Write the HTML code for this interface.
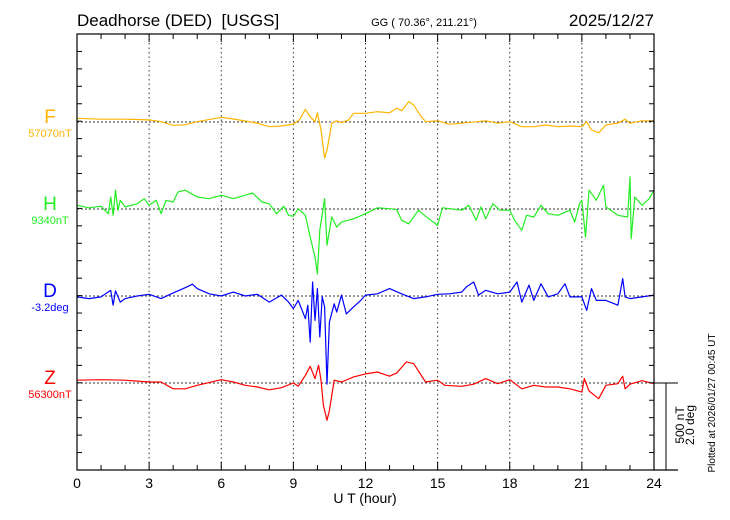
<!DOCTYPE html>
<html><head><meta charset="utf-8"><style>
body{margin:0;background:#fff;}
svg{display:block;font-family:"Liberation Sans",sans-serif;}
text{white-space:pre;}
</style></head><body>
<svg id="chart" width="730" height="520" viewBox="0 0 730 520" xmlns="http://www.w3.org/2000/svg">
<text x="77" y="26" font-size="17" xml:space="preserve">Deadhorse (DED)  [USGS]</text>
<text x="424" y="26" font-size="11" text-anchor="middle">GG ( 70.36°, 211.21°)</text>
<text x="654" y="26" font-size="17" text-anchor="end">2025/12/27</text>
<g id="grid"></g>
<g id="series"></g>
<g id="axes"></g>
<text x="365" y="503" font-size="14" text-anchor="middle">U T (hour)</text>
<text transform="translate(684,425) rotate(-90)" font-size="12" text-anchor="middle">500 nT</text>
<text transform="translate(694,425) rotate(-90)" font-size="12" text-anchor="middle">2.0 deg</text>
<text transform="translate(715,403) rotate(-90)" font-size="10" text-anchor="middle">Plotted at 2026/01/27 00:45 UT</text>
</svg>
<script>
const xTicks = [0,3,6,9,12,15,18,21,24];
const fT = [0,1,2,3,3.5,4,4.5,5,6,6.5,7,7.5,8,8.5,9,9.25,9.5,9.7,9.9,10,10.15,10.3,10.4,10.6,10.8,11,11.3,11.5,12,12.5,13,13.3,13.5,13.8,14,14.3,14.5,15,15.5,16,17,17.5,18,18.5,19,19.5,20,20.5,21,21.2,21.4,21.7,22,22.5,22.8,23,23.5,24];
const fVals = [21,16,16,12,2,-19,-16,2,27,17,6,-7,-27,-23,-12,12,73,30,2,53,-46,-207,-161,-7,7,-4,12,50,50,59,53,79,65,117,98,35,2,7,-13,-7,7,-7,2,-27,-27,-17,-27,-23,-27,2,-46,-62,-17,-7,16,-7,7,7];
const hT = [0,0.5,1,1.3,1.4,1.5,1.6,1.7,1.8,2,2.5,2.8,3,3.3,3.5,3.7,4,4.2,4.5,5,5.5,6,6.5,7,7.3,7.7,8,8.3,8.6,8.8,9,9.2,9.5,9.7,9.9,10,10.1,10.3,10.4,10.6,10.8,11,11.5,12,12.5,13,13.3,13.5,13.8,14.2,14.5,15,15.2,15.5,16,16.3,16.6,16.8,17,17.3,17.6,18,18.2,18.5,18.7,19,19.3,19.6,20,20.5,20.7,20.9,21,21.15,21.3,21.6,21.9,22,22.5,22.9,23,23.05,23.2,23.5,23.8,24];
const hVals = [21,7,16,-27,69,-36,108,-7,50,12,30,59,21,50,-27,50,40,98,108,69,59,79,59,79,92,40,30,-27,16,-36,-42,2,-36,-161,-276,-372,-121,59,-207,-46,-104,-75,-56,-27,7,2,-4,-65,-85,-7,-42,-94,7,2,-7,21,-65,12,-56,30,-7,-7,-65,-122,-36,-46,21,-27,-36,-7,-75,30,50,-161,108,50,136,12,-36,-46,184,-171,69,21,59,108];
const dT = [0,0.5,1,1.4,1.5,1.6,1.8,2,2.5,3,3.5,4,4.5,4.8,5,5.5,6,6.5,7,7.5,8,8.5,8.8,9,9.2,9.5,9.6,9.7,9.8,9.9,10,10.1,10.2,10.3,10.4,10.5,10.7,10.8,11,11.2,11.5,11.8,12,12.5,13,13.5,14,14.5,15,15.5,16,16.2,16.5,16.7,17,17.5,18,18.3,18.5,18.8,19,19.3,19.6,20,20.3,20.5,21,21.2,21.4,21.6,22,22.5,22.7,22.8,23,23.5,24];
const dVals = [-0.02,-0.06,-0.02,0.13,-0.21,0.12,-0.14,-0.06,0,0.04,-0.06,0.07,0.19,0.27,0.17,0.05,0,0.09,0,0.04,-0.14,0.02,-0.14,-0.29,-0.10,-0.52,-0.21,-1.06,0.32,-0.56,0.17,-0.94,-0.02,-0.25,-2.02,-0.60,-0.18,-0.37,0.02,-0.41,-0.25,-0.10,0.02,0.05,0.17,0.05,-0.06,-0.02,0.04,0.05,0.09,0.21,0.32,0.02,0.13,0.05,0.09,0.32,-0.14,0.25,-0.10,0.28,-0.02,0.05,0.28,-0.02,-0.02,-0.33,0.17,-0.10,-0.10,-0.21,0.40,-0.02,-0.06,-0.02,0.02];
const zT = [0,1,2,3,3.5,4,4.5,5,6,6.5,7,7.5,8,8.5,9,9.2,9.5,9.7,9.9,10.05,10.15,10.25,10.4,10.5,10.7,11,11.5,12,12.5,13,13.3,13.7,14,14.5,15,15.3,16,16.5,17,17.5,18,18.5,19,19.5,20,20.5,21,21.1,21.3,21.7,22,22.5,22.7,22.8,23,23.5,24];
const zVals = [16,19,16,6,6,-33,-33,-13,19,6,-13,-23,-39,-27,0,-19,44,96,25,102,16,-128,-214,-157,16,6,35,52,63,39,58,121,111,6,16,-13,-19,-7,25,-4,19,-33,-13,-23,-23,-33,-52,25,-46,-90,-13,-4,39,-33,-7,13,-4];

const X0=77, X1=654, Y0=34, Y1=470;
const xs = h => X0 + (X1-X0)*h/24;
const tick = (Y1-Y0)/25;
const ntScale = 5*tick/500;   // px per nT
const degScale = 5*tick/2.0;  // px per deg
const NS='http://www.w3.org/2000/svg';
function mk(tag, attrs, parent){const e=document.createElementNS(NS,tag);for(const k in attrs)e.setAttribute(k,attrs[k]);parent.appendChild(e);return e;}
const grid=document.getElementById('grid'), axes=document.getElementById('axes'), ser=document.getElementById('series');

xTicks.forEach(h=>{ if(h>0&&h<24){
  const l=mk('line',{x1:xs(h),x2:xs(h),y1:Y0,y2:Y1,stroke:'#333','stroke-width':1,'stroke-dasharray':'1.5,3'},grid);
  
  
}});

const series=[
 {name:'f',t:fT,v:fVals,base:122,sc:ntScale,color:'#ffb400',label:'F',val:'57070nT'},
 {name:'h',t:hT,v:hVals,base:209,sc:ntScale,color:'#22ee22',label:'H',val:'9340nT'},
 {name:'d',t:dT,v:dVals,base:296,sc:degScale,color:'#0000ff',label:'D',val:'-3.2deg'},
 {name:'z',t:zT,v:zVals,base:383,sc:ntScale,color:'#ff0000',label:'Z',val:'56300nT'}
];
series.forEach(s=>{
  const bl=mk('line',{x1:X0,x2:X1,y1:s.base,y2:s.base,stroke:'#333','stroke-width':1,'stroke-dasharray':'2,2'},grid);
  
  
  const n=Math.min(s.t.length,s.v.length);
  let d='';
  for(let i=0;i<n;i++){d+=(i?'L':'M')+xs(s.t[i]).toFixed(1)+','+(s.base-s.v[i]*s.sc).toFixed(1);}
  const p=mk('path',{d:d,fill:'none',stroke:s.color,'stroke-width':1.2,'stroke-linejoin':'round'},ser);
  
  
  const lt=mk('text',{x:50,y:s.base+1,'font-size':19,fill:s.color,'text-anchor':'middle'},axes);
  lt.textContent=s.label;
  
  
  const vt=mk('text',{x:50,y:s.base+15,'font-size':11,fill:s.color,'text-anchor':'middle'},axes);
  vt.textContent=s.val;
  
  
});

const fr=mk('rect',{x:X0,y:Y0,width:X1-X0,height:Y1-Y0,fill:'none',stroke:'#000','stroke-width':1.2},axes);


const bx=mk('line',{x1:X1,x2:678,y1:Y1,y2:Y1,stroke:'#000','stroke-width':1.2},axes);


const sh=mk('line',{x1:X1,x2:678,y1:383,y2:383,stroke:'#000','stroke-width':1},axes);


const sv=mk('line',{x1:666,x2:666,y1:383,y2:Y1,stroke:'#000','stroke-width':1},axes);


for(let i=1;i<25;i++){
  const y=Y0+i*tick;
  const a=mk('line',{x1:X0,x2:X0+5,y1:y,y2:y,stroke:'#000'},axes);
  
  
  const b=mk('line',{x1:X1-5,x2:X1,y1:y,y2:y,stroke:'#000'},axes);
  
  
}
for(let h=1;h<24;h++){
  const len=(h%3===0)?8:5;
  const a=mk('line',{x1:xs(h),x2:xs(h),y1:Y0,y2:Y0+len,stroke:'#000'},axes);
  
  
  const b=mk('line',{x1:xs(h),x2:xs(h),y1:Y1-len,y2:Y1,stroke:'#000'},axes);
  
  
}
xTicks.forEach(h=>{
  const t=mk('text',{x:xs(h),y:488,'font-size':14,'text-anchor':'middle'},axes);
  t.textContent=String(h);
  
  
});
</script>
</body></html>
